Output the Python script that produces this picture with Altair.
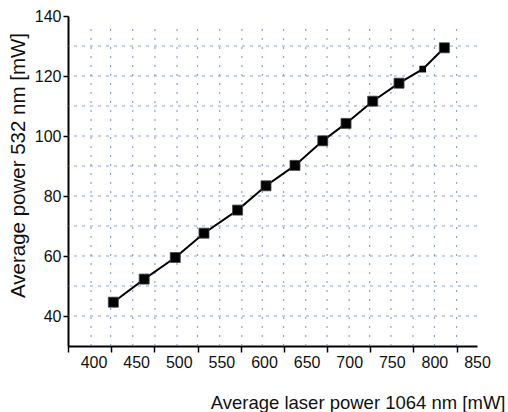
import altair as alt
import pandas as pd

# measured data (laser power 1064 nm vs power 532 nm, mW)
x_vals = [423.2, 459.4, 495.9, 529.6, 569.0, 602.4, 636.4, 669.0, 696.3, 727.6, 758.5, 786.3, 811.7]
y_vals = [44.6, 52.3, 59.5, 67.6, 75.3, 83.4, 90.2, 98.4, 104.2, 111.6, 117.6, 122.3, 129.4]
small_marker = [False] * 11 + [True, False]

x_label_vals = [400, 450, 500, 550, 600, 650, 700, 750, 800, 850]
x_tick_vals = [370, 420, 471, 522, 573, 623, 674, 724, 775, 826]
y_label_vals = [40, 60, 80, 100, 120, 140]
grid_x = [397, 420, 446, 472, 498, 522, 548, 574, 598, 623, 649, 674, 700, 724, 749, 775, 800, 826]
grid_y = [40, 50, 60, 70, 80, 90, 100, 110, 120, 130]

df = pd.DataFrame({"x": x_vals, "y": y_vals, "small": small_marker})
FONT = "Liberation Sans"
GRID = "#5b7bbf"

xscale = alt.Scale(domain=[370, 850], nice=False, zero=False)
yscale = alt.Scale(domain=[30, 140], nice=False, zero=False)

xlab = "indexof([" + ",".join(str(v) for v in x_label_vals) + "], datum.value) >= 0"

xaxis = alt.Axis(
    values=sorted(x_label_vals + x_tick_vals),
    labelExpr=xlab + " ? datum.label : ''",
    tickOpacity={"condition": {"test": xlab, "value": 0}, "value": 1},
    labelFlush=False,
    grid=False, domainColor="black", domainWidth=2, tickColor="black", tickWidth=1.5,
    tickSize=6, labelFontSize=16, labelColor="#111", labelFont=FONT,
    title="Average laser power 1064 nm [mW]", titleFont=FONT, titleFontSize=18.5,
    titleFontWeight="normal", titleColor="#111", titleAlign="right", titleAnchor="start",
    titleX=437, titleY=62, titleBaseline="alphabetic",
)
yaxis = alt.Axis(
    values=y_label_vals,
    grid=False, domainColor="black", domainWidth=2, tickColor="black", tickWidth=1.5,
    tickSize=5, labelFontSize=16, labelColor="#111", labelFont=FONT,
    title="Average power 532 nm [mW]", titleFont=FONT, titleFontSize=20.5,
    titleFontWeight="normal", titleColor="#111", titleAngle=270,
    titleX=-44, titleY=149, titleAlign="center", titleBaseline="alphabetic",
)

X = lambda f: alt.X(f, scale=xscale, axis=xaxis)
Y = lambda f: alt.Y(f, scale=yscale, axis=yaxis)

gridh = alt.Chart(pd.DataFrame({"gy": grid_y})).mark_rule(
    color=GRID, strokeWidth=1.2, strokeDash=[3, 5], opacity=0.7
).encode(y=Y("gy:Q"))

gridv = alt.Chart(pd.DataFrame({"gx": grid_x})).mark_rule(
    color=GRID, strokeWidth=1.2, strokeDash=[2, 7], opacity=0.7
).encode(
    x=X("gx:Q"),
    y=alt.datum(30),
    y2=alt.datum(137.5),
)

line = alt.Chart(df).mark_line(color="black", strokeWidth=2).encode(
    x=X("x:Q"), y=Y("y:Q"),
)
big = alt.Chart(df).transform_filter("!datum.small").mark_square(
    size=100, color="black", opacity=1, stroke="#444", strokeWidth=0.8
).encode(x=X("x:Q"), y=Y("y:Q"))
small = alt.Chart(df).transform_filter("datum.small").mark_square(
    size=45, color="black", opacity=1
).encode(x=X("x:Q"), y=Y("y:Q"))

chart = alt.layer(gridh, gridv, line, big, small).properties(
    width=409, height=330,
    padding={"left": 68, "top": 16, "right": 31, "bottom": 66},
    autosize=alt.AutoSizeParams(type="none"),
    background="white",
).configure_view(stroke=None)

chart.save("out.html", embed_options={"renderer": "svg", "actions": False})
